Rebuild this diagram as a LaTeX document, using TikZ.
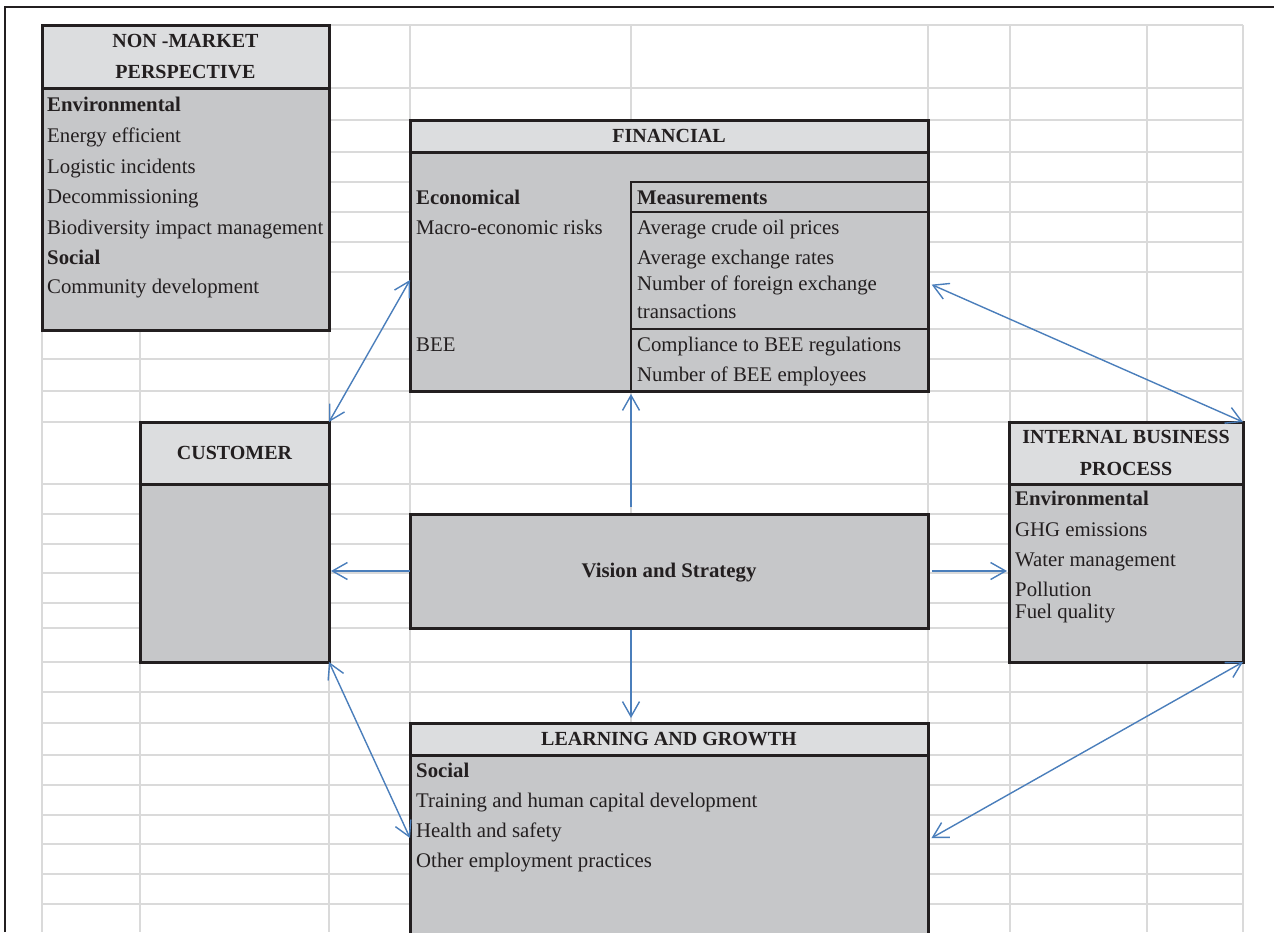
\documentclass[tikz,border=0pt]{standalone}
\usepackage{fontspec}
\setmainfont{Liberation Serif}
\usepackage{tikz}
\usetikzlibrary{arrows.meta,positioning,calc}

\definecolor{headgray}{HTML}{DCDDDF}
\definecolor{bodygray}{HTML}{C6C7C9}
\definecolor{gridgray}{HTML}{DADADA}
\definecolor{inkblack}{HTML}{231F20}
\definecolor{linkblue}{HTML}{4A7EBB}

\tikzset{
  panel/.style={rectangle, draw=inkblack, line width=3pt, fill=bodygray,
    anchor=north west, inner sep=0pt, outer sep=0pt},
  panelhead/.style={panel, fill=headgray, text=inkblack, align=center,
    font=\fontsize{20}{31.5}\selectfont\bfseries},
  item/.style={anchor=base west, inner sep=0pt, text=inkblack,
    font=\fontsize{20.8}{24}\selectfont},
  itemb/.style={item, font=\fontsize{20.8}{24}\selectfont\bfseries},
  gridline/.style={draw=gridgray, line width=2pt},
  link/.style={draw=linkblue, line width=1.4pt,
    {Straight Barb[length=15pt,width=17pt]}-{Straight Barb[length=15pt,width=17pt]}},
  onelink/.style={draw=linkblue, line width=1.4pt,
    -{Straight Barb[length=15pt,width=17pt]}},
}

\begin{document}
\begin{tikzpicture}[x=1pt,y=-1pt]
\useasboundingbox (0,0) rectangle (1274,932);

% sheet grid
\foreach \x in {42,140,329,410,631,928,1010,1147,1243}
  \draw[gridline] (\x,25) -- (\x,932);
\foreach \y in {25,88,120,152,182,212,242,272,329,359,391,422,484,514,544,573,603,628,662,692,723,755,785,815,844,874,904}
  \draw[gridline] (42,\y) -- (1243,\y);

% frame
\draw[draw=inkblack, line width=2.5pt] (5,932) -- (5,7) -- (1274,7);

% Non-market perspective
\node[panel, minimum width=287, minimum height=305] (nm) at (42,25) {};
\node[panelhead, minimum width=287, minimum height=63] (nmhead) at (nm.north west) {NON -MARKET\\PERSPECTIVE};
\foreach \s/\y/\t [count=\i] in {itemb/111/Environmental, item/142/Energy efficient,
    item/173/Logistic incidents, item/203/Decommissioning,
    item/234/Biodiversity impact management, itemb/264/Social,
    item/293/Community development}
  \node[\s] (nmtxt\i) at (47,\y) {\t};

% Financial
\node[panel, minimum width=518, minimum height=271] (fin) at (410,120) {};
\node[panelhead, minimum width=518, minimum height=32] (finhead) at (fin.north west) {FINANCIAL};
\draw[draw=inkblack, line width=2.5pt] (631,391) -- (631,182) -- (928,182);
\draw[draw=inkblack, line width=2.5pt] (631,212) -- (928,212);
\draw[draw=inkblack, line width=2.5pt] (631,329) -- (928,329);
\foreach \s/\y/\t [count=\i] in {itemb/204/Economical, item/234/Macro-economic risks, item/351/BEE}
  \node[\s] (fintxt\i) at (416,\y) {\t};
\foreach \s/\y/\t [count=\i] in {itemb/204/Measurements, item/234/Average crude oil prices,
    item/264/Average exchange rates, item/290/Number of foreign exchange,
    item/318/transactions, item/351/Compliance to BEE regulations,
    item/381/Number of BEE employees}
  \node[\s] (meastxt\i) at (637,\y) {\t};

% Customer
\node[panel, minimum width=189, minimum height=240] (cust) at (140,422) {};
\node[panelhead, minimum width=189, minimum height=62] (custhead) at (cust.north west) {CUSTOMER};

% Vision and strategy
\node[panel, minimum width=518, minimum height=114, text=inkblack, text depth=1pt,
  font=\fontsize{20.8}{24}\selectfont\bfseries] (vis) at (410,514) {Vision and Strategy};

% Internal business process
\node[panel, minimum width=234, minimum height=240] (ibp) at (1009,422) {};
\node[panelhead, minimum width=234, minimum height=62] (ibphead) at (ibp.north west) {INTERNAL BUSINESS\\PROCESS};
\foreach \s/\y/\t [count=\i] in {itemb/505/Environmental, item/536/GHG emissions,
    item/566/Water management, item/596/Pollution, item/618/Fuel quality}
  \node[\s] (ibptxt\i) at (1015,\y) {\t};

% Learning and growth
\node[panel, minimum width=518, minimum height=212] (lg) at (410,723) {};
\node[panelhead, minimum width=518, minimum height=32] (lghead) at (lg.north west) {LEARNING AND GROWTH};
\foreach \s/\y/\t [count=\i] in {itemb/777/Social, item/807/Training and human capital development,
    item/837/Health and safety, item/867/Other employment practices}
  \node[\s] (lgtxt\i) at (416,\y) {\t};

% links between perspectives
\draw[link] (cust.north east) -- ($(fin.north west)+(0,160)$);
\draw[link, shorten <=4pt] ($(fin.north east)+(0,163)$) -- (ibp.north east);
\draw[link] (cust.south east) -- ($(lg.north west)+(0,115)$);
\draw[link, shorten >=4pt] (ibp.south east) -- ($(lg.north east)+(0,117)$);

% from vision and strategy
\coordinate (vtop) at ($(vis.north west)+(221,-7)$);
\coordinate (vbot) at ($(vis.south west)+(221,2)$);
\draw[onelink, shorten >=3pt] (vtop) -- (vtop |- fin.south);
\draw[onelink, shorten >=2pt] (vis.west) -- (vis.west -| cust.east);
\draw[onelink, shorten <=4pt, shorten >=2pt] (vis.east) -- (vis.east -| ibp.west);
\draw[onelink, shorten >=5pt] (vbot) -- (vbot |- lg.north);
\end{tikzpicture}
\end{document}
